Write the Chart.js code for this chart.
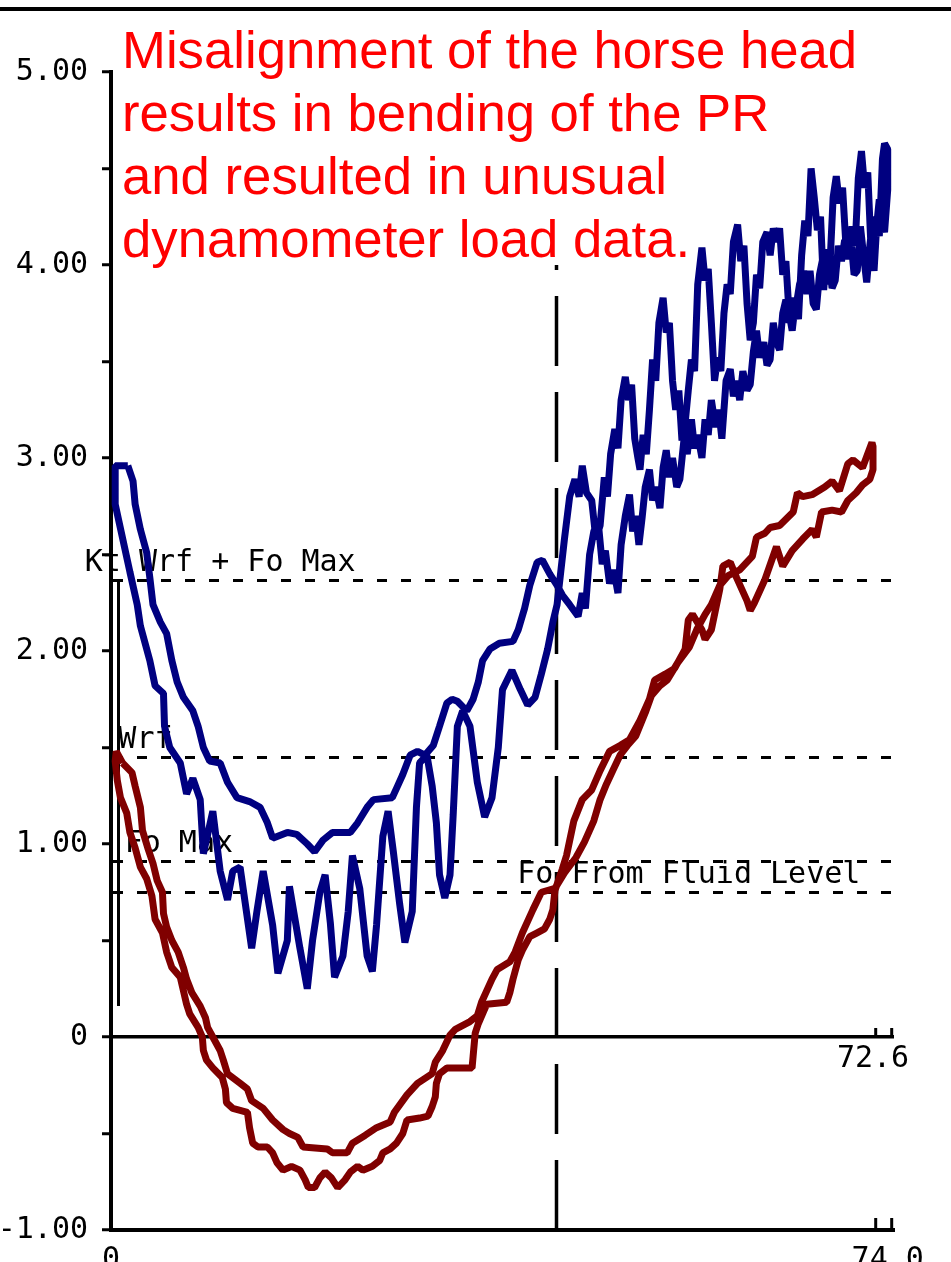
<!DOCTYPE html>
<html>
<head>
<meta charset="utf-8">
<script src="https://cdn.jsdelivr.net/npm/chart.js@4.4.1/dist/chart.umd.min.js"></script>
<style>
  html, body { margin: 0; padding: 0; background: #fff; overflow: hidden; }
  #wrap { position: relative; width: 951px; height: 1262px; }
  #card { position: absolute; left: 0; top: 0; }
  #note {
    position: absolute; left: 122px; top: 18px;
    font-family: "Liberation Sans", Arial, sans-serif;
    font-size: 52.7px; line-height: 63px; color: #ff0000; white-space: nowrap;
  }
</style>
</head>
<body>
<div id="wrap">
  <canvas id="card" width="951" height="1262"></canvas>
  <div id="note">Misalignment of the horse head<br>results in bending of the PR<br>and resulted in unusual<br>dynamometer load data.</div>
</div>
<script>
// Surface card: upper strand (left to right)
const surfaceTopPos = [1.6, 2.1, 2.3, 2.8, 3.4, 3.7, 4.0, 4.7, 5.3, 5.8, 6.3, 6.9, 7.8, 8.3, 8.8, 9.4, 10.4, 11.1, 12.0, 13.2,
  14.2, 14.9, 15.4, 16.8, 17.7, 18.7, 19.4, 20.2, 21.1, 22.8, 23.5, 24.4, 25.0, 26.8, 27.3, 27.8, 28.5, 29.2, 29.9, 30.7,
  31.3, 32.0, 32.5, 33.0, 33.9, 34.5, 35.0, 35.4, 36.1, 37.0, 38.3, 38.8, 39.4, 39.9, 40.6, 41.1, 41.8, 42.5, 43.0, 43.7,
  44.5,
  44.9, 45.2, 45.6, 46.0, 46.4, 46.8, 47.1, 47.5, 47.9, 48.3, 48.6, 49.0, 49.4, 49.7, 50.0, 50.3, 50.6, 50.9, 51.3, 51.6,
  51.9, 52.3, 52.6, 52.9, 53.2, 53.5, 53.9, 54.2, 54.6, 54.9, 55.3, 55.6, 55.9, 56.3, 56.6, 56.9, 57.2, 57.6, 57.9, 58.2,
  58.6, 59.0, 59.3, 59.6, 59.9, 60.2, 60.6, 60.9, 61.2, 61.5, 61.8, 62.2, 62.5, 62.8, 63.1, 63.4, 63.7, 64.0, 64.3, 64.6,
  64.9, 65.2, 65.6, 66.0, 66.3, 66.6, 66.9, 67.2, 67.5, 67.8, 68.1, 68.4, 68.7, 69.0, 69.3, 69.6, 69.9, 70.2, 70.5, 70.8,
  71.1, 71.4, 71.7, 72.0, 72.3, 72.6, 72.9, 73.2, 73.5, 73.7, 74.0];
const surfaceTopLoad = [2.96, 2.88, 2.76, 2.63, 2.51, 2.38, 2.24, 2.15, 2.09, 1.95, 1.84, 1.76, 1.69, 1.61, 1.50, 1.43, 1.42, 1.32, 1.24, 1.22,
  1.19, 1.11, 1.03, 1.06, 1.05, 1.00, 0.96, 1.02, 1.06, 1.06, 1.11, 1.19, 1.23, 1.24, 1.30, 1.36, 1.46, 1.48, 1.46, 1.51,
  1.61, 1.73, 1.75, 1.74, 1.69, 1.75, 1.84, 1.95, 2.01, 2.04, 2.05, 2.11, 2.22, 2.34, 2.46, 2.47, 2.40, 2.34, 2.29, 2.24,
  2.18,
  2.30, 2.22, 2.50, 2.62, 2.68, 2.45, 2.52, 2.35, 2.42, 2.30, 2.55, 2.70, 2.81, 2.62, 2.70, 2.55, 2.69, 2.85, 2.94, 2.78,
  2.85, 2.74, 2.95, 3.04, 2.90, 3.00, 2.85, 2.89, 3.10, 3.02, 3.20, 3.05, 3.12, 3.00, 3.20, 3.12, 3.30, 3.16, 3.25, 3.10,
  3.40, 3.46, 3.32, 3.40, 3.30, 3.45, 3.35, 3.38, 3.55, 3.66, 3.52, 3.60, 3.48, 3.51, 3.70, 3.60, 3.56, 3.75, 3.82, 3.70,
  3.83, 3.76, 3.90, 3.97, 3.85, 3.97, 3.80, 3.77, 3.95, 4.03, 3.90, 4.03, 3.88, 3.92, 4.10, 4.02, 4.13, 4.05, 4.13, 3.95,
  3.97, 4.20, 4.05, 3.91, 4.10, 4.25, 4.18, 4.34, 4.22, 4.17, 4.39];

// Surface card: lower strand (left to right)
const surfaceBotPos = [0.4, 0.4, 1.0, 1.8, 2.5, 2.8, 3.7, 4.2, 5.0, 5.1, 5.6, 6.6, 7.2, 7.8, 8.5, 8.8, 9.7, 10.4, 11.1, 11.6,
  12.3, 13.4, 13.9, 14.5, 15.4, 15.9, 16.8, 17.0, 18.0, 18.7, 19.2, 19.9, 20.4, 20.9, 21.3, 22.1, 22.6, 23.0, 23.7, 24.4,
  24.9, 25.3, 25.9, 26.4, 26.9, 27.5, 28.0, 28.7, 29.1, 29.4, 30.1, 30.6, 31.0, 31.3, 31.8, 32.3, 32.6, 33.0, 33.5, 34.2,
  34.9, 35.6, 36.3, 36.9, 37.3, 38.2, 39.0, 39.7, 40.4, 41.0, 41.6, 42.1, 42.5,
  43.2, 43.7, 44.2, 44.6, 44.9, 45.3, 45.8, 46.2, 46.6, 47.0, 47.3, 47.6, 48.0, 48.3, 48.6, 49.0, 49.3, 49.6, 49.9, 50.2,
  50.4, 50.7, 51.0, 51.3, 51.6, 51.9, 52.2, 52.6, 52.9, 53.2, 53.5, 53.8, 54.1, 54.4, 54.7, 55.0, 55.3, 55.6, 55.9, 56.3,
  56.6, 56.9, 57.2, 57.5, 57.8, 58.1, 58.4, 58.7, 59.0, 59.3, 59.7, 60.0, 60.3, 60.6, 60.9, 61.2, 61.5, 61.8, 62.1, 62.5,
  62.8, 63.1, 63.4, 63.7, 64.0, 64.3, 64.6, 64.9, 65.2, 65.5, 65.8, 66.1, 66.4, 66.7, 67.0, 67.3, 67.6, 67.9, 68.2, 68.5,
  68.8, 69.1, 69.4, 69.7, 70.0, 70.3, 70.6, 70.9, 71.2, 71.5, 71.8, 72.1, 72.4, 72.7, 73.0, 73.2, 73.5, 73.7, 74.0];
const surfaceBotLoad = [2.96, 2.76, 2.61, 2.41, 2.24, 2.13, 1.95, 1.82, 1.78, 1.61, 1.50, 1.42, 1.26, 1.34, 1.23, 0.95, 1.17, 0.86, 0.71, 0.86,
  0.88, 0.46, 0.65, 0.86, 0.58, 0.33, 0.50, 0.78, 0.46, 0.25, 0.50, 0.75, 0.84, 0.59, 0.31, 0.42, 0.65, 0.94, 0.77, 0.42,
  0.34, 0.58, 1.04, 1.17, 0.96, 0.69, 0.49, 0.65, 1.19, 1.42, 1.46, 1.30, 1.11, 0.84, 0.72, 0.84, 1.15, 1.61, 1.69, 1.61,
  1.32, 1.14, 1.24, 1.50, 1.80, 1.90, 1.80, 1.72, 1.76, 1.88, 2.01, 2.15, 2.24,
  2.58, 2.80, 2.89, 2.80, 2.96, 2.82, 2.78, 2.58, 2.65, 2.90, 2.80, 3.02, 3.15, 3.05, 3.30, 3.42, 3.30, 3.38, 3.10, 3.00,
  2.94, 3.12, 3.02, 3.25, 3.51, 3.40, 3.70, 3.83, 3.65, 3.70, 3.40, 3.25, 3.35, 3.09, 3.18, 3.35, 3.51, 3.45, 3.90, 4.09,
  3.92, 3.98, 3.70, 3.40, 3.52, 3.45, 3.75, 3.90, 3.85, 4.12, 4.21, 4.02, 4.10, 3.80, 3.61, 3.70, 3.95, 3.88, 4.12, 4.17,
  4.05, 4.19, 4.12, 4.19, 3.95, 4.02, 3.75, 3.66, 3.80, 3.72, 4.05, 4.23, 4.15, 4.50, 4.35, 4.18, 4.25, 3.87, 4.08, 4.00,
  4.35, 4.46, 4.32, 4.40, 4.12, 4.03, 4.20, 4.10, 4.45, 4.59, 4.40, 4.48, 4.10, 3.97, 4.25, 4.15, 4.55, 4.63, 4.60];

// Pump card: upper strand (left to right)
const pumpTopPos = [1.1, 2.0, 2.3, 2.8, 3.0, 3.5, 4.0, 4.4, 4.9, 5.0, 5.3, 5.8, 6.4, 6.9, 7.2, 7.7, 8.5, 9.0, 9.2, 9.7,
  10.4, 10.7, 11.1, 12.3, 13.0, 13.4, 14.5, 15.4, 16.4, 17.0, 17.8, 18.3, 20.6, 21.1, 22.5, 23.0, 24.2, 25.3, 26.6, 27.0,
  28.2, 29.2, 30.6, 30.9, 31.6, 32.3, 32.8, 34.2, 34.9, 35.3, 36.3, 36.8, 38.0, 38.5, 39.2, 40.2, 41.0, 42.3, 43.2, 44.3,
  45.1, 46.0, 46.6, 47.2, 47.8, 48.5, 49.2, 50.0, 50.9, 51.5, 52.3, 53.0, 54.0, 55.1, 55.8, 56.6, 57.2, 58.0, 58.8, 59.9,
  61.1, 61.5, 62.3, 62.8, 63.7, 65.0, 65.4, 65.9, 66.8, 68.0, 68.7, 69.4, 70.2, 70.7, 71.6, 72.5, 72.6];
const pumpTopLoad = [1.42, 1.37, 1.30, 1.19, 1.07, 0.98, 0.90, 0.81, 0.75, 0.64, 0.57, 0.50, 0.44, 0.36, 0.30, 0.23, 0.16, 0.10, 0.05, 0.00,
  -0.07, -0.12, -0.19, -0.24, -0.27, -0.33, -0.37, -0.43, -0.48, -0.50, -0.52, -0.57, -0.58, -0.60, -0.60, -0.55, -0.51, -0.47, -0.44, -0.39,
  -0.30, -0.24, -0.19, -0.13, -0.07, 0.01, 0.04, 0.08, 0.11, 0.18, 0.30, 0.35, 0.39, 0.44, 0.54, 0.66, 0.75, 0.77, 0.85, 0.93,
  1.01, 1.12, 1.23, 1.31, 1.38, 1.46, 1.51, 1.56, 1.68, 1.77, 1.82, 1.85, 1.94, 2.02, 2.11, 2.19, 2.24, 2.34, 2.39, 2.42,
  2.49, 2.59, 2.61, 2.64, 2.65, 2.72, 2.82, 2.80, 2.81, 2.85, 2.88, 2.83, 2.97, 2.99, 2.95, 3.08, 3.06];

// Pump card: lower strand (left to right)
const pumpBotPos = [0.5, 0.4, 0.6, 0.9, 1.5, 1.8, 2.3, 2.8, 3.4, 3.9, 4.2, 4.9, 5.3, 5.8, 6.6, 6.9, 7.2, 7.5, 8.3, 8.7,
  8.8, 9.1, 9.7, 10.6, 10.9, 11.0, 11.6, 13.0, 13.2, 13.5, 14.0, 14.9, 15.4, 15.8, 16.4, 17.2, 18.0, 18.5, 18.8, 19.4,
  19.9, 20.4, 21.0, 21.6, 22.3, 22.8, 23.5, 24.0, 24.9, 25.6, 25.9, 26.6, 27.2, 27.8, 28.2, 29.4, 30.2, 30.6, 30.9, 31.0,
  31.3, 32.0, 33.9, 34.4, 34.5, 34.7, 35.0, 35.4, 35.8, 37.7, 38.0, 38.3, 38.8, 39.2, 39.9, 40.6, 41.3, 41.8, 42.1, 42.3,
  43.0, 43.4, 44.1, 44.9, 45.8, 46.6, 47.5, 48.5, 49.4, 50.4, 51.3, 51.8, 52.8, 53.7, 54.7, 55.0, 55.4, 56.3, 56.6, 57.2,
  58.0, 58.3, 59.0, 59.6, 60.6, 60.9, 61.3, 62.3, 63.4, 64.0, 64.9, 65.9, 66.8, 67.2, 67.7, 68.7, 69.6, 70.2, 71.0, 71.6,
  72.3, 72.6];
const pumpBotLoad = [1.48, 1.43, 1.33, 1.24, 1.16, 1.06, 0.98, 0.88, 0.82, 0.73, 0.61, 0.54, 0.44, 0.36, 0.31, 0.24, 0.17, 0.12, 0.05, 0.00,
  -0.07, -0.12, -0.16, -0.21, -0.27, -0.34, -0.37, -0.39, -0.47, -0.55, -0.57, -0.57, -0.60, -0.65, -0.69, -0.67, -0.69, -0.74, -0.78, -0.78,
  -0.73, -0.70, -0.73, -0.78, -0.74, -0.70, -0.67, -0.69, -0.67, -0.64, -0.60, -0.58, -0.55, -0.50, -0.43, -0.42, -0.41, -0.36, -0.31, -0.24,
  -0.19, -0.16, -0.16, -0.16, -0.10, 0.02, 0.07, 0.12, 0.17, 0.18, 0.23, 0.30, 0.40, 0.45, 0.52, 0.54, 0.56, 0.61, 0.66, 0.76,
  0.87, 0.94, 1.12, 1.23, 1.28, 1.38, 1.48, 1.51, 1.54, 1.64, 1.75, 1.85, 1.88, 1.91, 2.01, 2.16, 2.19, 2.11, 2.06, 2.11,
  2.32, 2.44, 2.46, 2.38, 2.26, 2.21, 2.25, 2.37, 2.54, 2.44, 2.52, 2.58, 2.63, 2.59, 2.72, 2.73, 2.72, 2.78, 2.82, 2.86,
  2.89, 2.94];

// Axis ticks
const yTickValues = [-1, 0, 1, 2, 3, 4, 5];
const yTickLabels = ['-1.00', '0', '1.00', '2.00', '3.00', '4.00', '5.00'];
const xTickValues = [0, 74];
const xTickLabels = ['0', '74.0'];

// Reference load levels
const refLevelNames = ['Kt Wrf + Fo Max', 'Wrf', 'Fo Max', 'Fo From Fluid Level'];
const refLevelValues = [2.37, 1.45, 0.91, 0.75];

// Stroke lengths and markers
const surfaceStroke = 74.0;
const pumpStroke = 72.6;
const markerPos = 42.4;
const rangeBar = [2.37, 0.16];

// Closed card: upper strand outward, lower strand back
function cardLoop(topPos, topLoad, botPos, botLoad) {
  const n = Math.min(topPos.length, topLoad.length);
  const m = Math.min(botPos.length, botLoad.length);
  const pts = [];
  for (let i = 0; i < n; i++) pts.push({ x: topPos[i], y: topLoad[i] });
  for (let i = m - 1; i >= 0; i--) pts.push({ x: botPos[i], y: botLoad[i] });
  pts.push({ x: topPos[0], y: topLoad[0] });
  return pts;
}

const monoFont = '"DejaVu Sans Mono", "Liberation Mono", monospace';

const cardMarks = {
  id: 'cardMarks',
  beforeDatasetsDraw(chart) {
    const { ctx, chartArea: a, scales: { x, y } } = chart;
    ctx.save();
    ctx.strokeStyle = '#000';
    ctx.fillStyle = '#000';

    // dashed reference levels
    ctx.lineWidth = 3;
    ctx.setLineDash([10, 14]);
    refLevelValues.forEach(v => {
      const py = Math.round(y.getPixelForValue(v)) + 0.5;
      ctx.beginPath();
      ctx.moveTo(a.left + 2, py);
      ctx.lineTo(a.right, py);
      ctx.stroke();
    });

    // long-dash vertical marker, laid from the bottom up
    ctx.lineWidth = 3.5;
    ctx.setLineDash([70, 26]);
    const mx = Math.round(x.getPixelForValue(markerPos)) + 0.5;
    ctx.beginPath();
    ctx.moveTo(mx, y.getPixelForValue(-1));
    ctx.lineTo(mx, y.getPixelForValue(4.0));
    ctx.stroke();
    ctx.setLineDash([]);

    // load range bar beside the load axis
    ctx.lineWidth = 3;
    const bx = a.left + 7.5;
    ctx.beginPath();
    ctx.moveTo(bx, y.getPixelForValue(rangeBar[0]));
    ctx.lineTo(bx, y.getPixelForValue(rangeBar[1]));
    ctx.stroke();

    // end brackets on the zero line and on the position axis
    [[0, 9], [-1, 12]].forEach(([v, h]) => {
      const py = y.getPixelForValue(v);
      [x.getPixelForValue(surfaceStroke) - 12, x.getPixelForValue(surfaceStroke) + 4].forEach(px => {
        ctx.beginPath();
        ctx.moveTo(px, py);
        ctx.lineTo(px, py - h);
        ctx.stroke();
      });
    });

    // level labels
    ctx.font = '30px ' + monoFont;
    ctx.textBaseline = 'alphabetic';
    ctx.textAlign = 'left';
    const labelPos = [-2.5, 0.7, 1.3, 38.7];
    refLevelNames.forEach((t, i) => {
      ctx.fillText(t, x.getPixelForValue(labelPos[i]), y.getPixelForValue(refLevelValues[i]) - 9);
    });

    // pump stroke label under the zero line
    ctx.textAlign = 'center';
    ctx.textBaseline = 'top';
    ctx.fillText(pumpStroke.toFixed(1), x.getPixelForValue(pumpStroke), y.getPixelForValue(0) + 7);
    ctx.restore();
  },
  afterDraw(chart) {
    const { ctx, width } = chart;
    ctx.save();
    ctx.fillStyle = '#000';
    ctx.fillRect(0, 7, width, 4);
    ctx.restore();
  }
};

new Chart(document.getElementById('card'), {
  type: 'scatter',
  data: {
    datasets: [
      {
        label: 'Surface card',
        data: cardLoop(surfaceTopPos, surfaceTopLoad, surfaceBotPos, surfaceBotLoad),
        showLine: true, borderColor: '#000080', borderWidth: 7, borderJoinStyle: 'bevel',
        pointRadius: 0, fill: false, tension: 0
      },
      {
        label: 'Pump card',
        data: cardLoop(pumpTopPos, pumpTopLoad, pumpBotPos, pumpBotLoad),
        showLine: true, borderColor: '#800000', borderWidth: 7, borderJoinStyle: 'bevel',
        pointRadius: 0, fill: false, tension: 0
      }
    ]
  },
  options: {
    responsive: false,
    devicePixelRatio: 1,
    animation: false,
    clip: false,
    layout: { padding: { left: 0, top: 72, right: 57, bottom: 0 } },
    plugins: { legend: { display: false }, tooltip: { enabled: false }, title: { display: false } },
    scales: {
      x: {
        type: 'linear', min: 0, max: 74.6,
        afterBuildTicks: s => { s.ticks = xTickValues.map(v => ({ value: v })); },
        afterFit: s => { s.height = 32; },
        ticks: {
          autoSkip: false, maxRotation: 0, padding: 4, color: '#000',
          font: { family: monoFont, size: 30 },
          callback: v => { const i = xTickValues.indexOf(v); return i >= 0 ? xTickLabels[i] : ''; }
        },
        grid: { display: false },
        border: { display: true, color: '#000', width: 4 }
      },
      y: {
        type: 'linear', min: -1, max: 5,
        afterFit: s => { s.width = 111; },
        ticks: {
          stepSize: 0.5, padding: 14, color: '#000',
          font: { family: monoFont, size: 30 },
          callback: v => { const i = yTickValues.indexOf(v); return i >= 0 ? yTickLabels[i] : ''; }
        },
        grid: {
          drawOnChartArea: true,
          color: c => (c.tick && c.tick.value === 0 ? '#000' : 'rgba(0,0,0,0)'),
          lineWidth: 3.5, tickColor: '#000', tickLength: 9, tickWidth: 3
        },
        border: { display: true, color: '#000', width: 4 }
      }
    }
  },
  plugins: [cardMarks]
});
</script>
</body>
</html>
